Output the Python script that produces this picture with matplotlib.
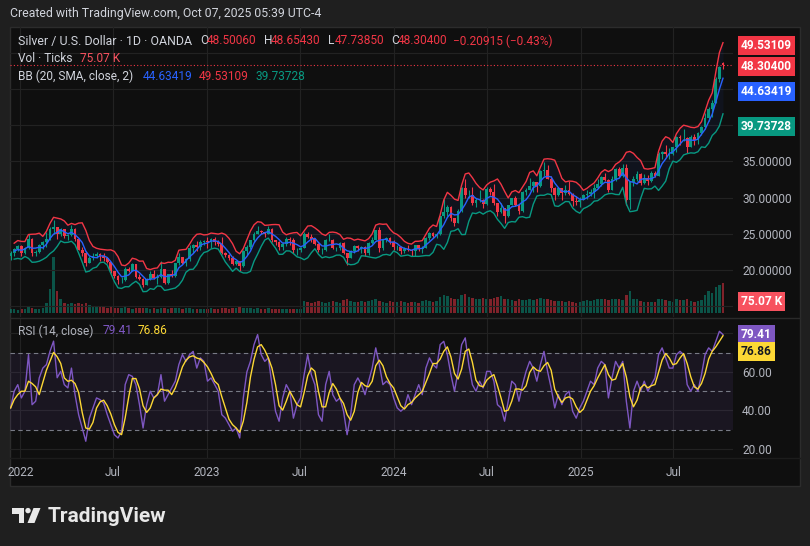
import numpy as np
import pandas as pd
import matplotlib
matplotlib.use('Agg')
import matplotlib.pyplot as plt
from matplotlib.patches import Rectangle, Polygon, Circle

W, H = 810, 546
FONT = 'Roboto'
plt.rcParams['font.family'] = [FONT, 'DejaVu Sans']

# weekly bars (week starting Monday)
start_week = '2021-12-13'
closes = [22.3, 22.9, 23.3, 22.4, 23.0, 24.3, 22.3, 22.5, 23.5, 23.9,
          24.3, 25.7, 25.9, 24.9, 25.6, 24.7, 24.8, 25.7, 24.3, 22.8,
          22.4, 20.9, 21.7, 22.0, 22.2, 21.9, 21.7, 21.1, 19.9, 19.2,
          18.6, 18.6, 20.2, 19.9, 20.8, 19.0, 18.8, 17.9, 18.8, 19.5,
          18.9, 19.0, 20.1, 18.2, 19.4, 19.2, 20.9, 21.8, 20.9, 21.5,
          23.1, 23.5, 23.2, 23.8, 24.0, 23.9, 24.3, 23.9, 23.6, 22.4,
          22.1, 21.6, 20.8, 21.2, 20.5, 22.6, 23.2, 24.1, 25.0, 25.4,
          25.2, 25.0, 25.6, 24.1, 23.9, 23.2, 23.6, 24.3, 24.2, 22.7,
          22.8, 23.1, 25.0, 24.6, 24.3, 23.6, 22.7, 22.7, 24.2, 24.2,
          23.0, 23.0, 23.7, 22.3, 21.6, 22.6, 23.3, 23.1, 23.2, 22.3,
          23.7, 24.2, 25.5, 23.0, 24.1, 24.4, 23.8, 23.2, 23.2, 22.6,
          22.9, 22.8, 22.6, 23.4, 22.9, 23.1, 24.4, 25.1, 24.7, 24.9,
          27.4, 28.0, 28.7, 27.2, 26.5, 28.2, 31.3, 30.3, 30.4, 29.2,
          29.6, 29.6, 29.1, 31.2, 30.7, 29.2, 28.0, 28.6, 27.4, 29.0,
          29.9, 28.9, 28.1, 30.7, 31.1, 31.6, 32.1, 31.6, 33.7, 33.8,
          32.6, 31.3, 30.3, 31.3, 30.6, 31.0, 30.5, 29.5, 29.4, 29.6,
          30.4, 30.5, 30.8, 31.3, 31.9, 32.8, 32.4, 31.1, 32.5, 34.0,
          33.0, 34.1, 29.6, 32.1, 32.6, 33.2, 32.0, 32.7, 32.3, 33.4,
          33.0, 36.0, 36.3, 36.0, 36.0, 36.9, 38.4, 38.2, 38.2, 37.0,
          38.3, 38.0, 38.9, 39.7, 41.0, 42.2, 43.1, 46.4, 48.0, 48.304]
highs = [22.6, 23.0, 23.5, 23.4, 23.2, 25.0, 24.4, 22.7, 23.6, 24.0,
         25.3, 25.9, 26.9, 26.0, 25.8, 25.7, 25.0, 26.2, 25.8, 24.4,
         23.2, 22.6, 22.0, 22.3, 22.5, 22.4, 22.3, 21.7, 21.1, 19.9,
         19.3, 19.1, 20.4, 20.4, 20.9, 20.8, 19.4, 18.9, 18.9, 19.9,
         20.0, 19.5, 21.2, 20.2, 19.5, 20.0, 21.0, 22.3, 21.8, 21.6,
         23.4, 23.6, 24.0, 24.2, 24.2, 24.5, 24.4, 24.6, 24.1, 24.6,
         22.5, 22.2, 21.9, 21.3, 21.2, 22.8, 23.5, 24.1, 25.2, 26.1,
         25.5, 25.3, 26.1, 25.8, 24.2, 24.0, 23.9, 24.5, 24.5, 24.4,
         23.1, 23.2, 25.3, 25.3, 25.0, 24.4, 23.7, 23.0, 24.3, 25.0,
         24.3, 23.2, 23.8, 23.8, 22.4, 22.7, 23.5, 23.4, 23.3, 23.3,
         23.9, 24.5, 25.5, 25.9, 24.3, 24.6, 24.6, 24.1, 23.4, 23.3,
         23.2, 23.5, 22.9, 23.5, 23.4, 23.3, 24.5, 25.3, 25.3, 25.1,
         27.5, 29.8, 29.0, 28.8, 27.2, 28.4, 31.5, 32.5, 31.1, 31.5,
         30.0, 31.0, 29.8, 31.5, 31.5, 31.8, 29.2, 29.2, 28.6, 29.0,
         30.0, 30.2, 29.0, 30.9, 31.3, 32.7, 32.3, 32.2, 33.8, 34.9,
         34.5, 33.0, 31.4, 31.5, 31.3, 31.7, 32.3, 30.6, 30.2, 30.1,
         30.5, 31.0, 31.2, 31.8, 32.5, 32.9, 33.4, 32.6, 32.9, 34.1,
         34.2, 34.6, 34.6, 32.2, 32.9, 33.7, 33.4, 33.2, 33.1, 33.6,
         33.6, 36.3, 36.4, 37.3, 36.8, 37.0, 38.5, 38.6, 39.5, 38.4,
         38.6, 38.7, 39.0, 39.8, 41.6, 42.5, 43.5, 46.6, 48.2, 48.6543]
lows = [21.4, 22.0, 22.6, 22.0, 22.2, 22.9, 22.0, 22.0, 22.4, 22.9,
        23.2, 24.2, 25.0, 24.3, 24.7, 24.4, 24.2, 24.7, 24.0, 22.7,
        22.0, 20.5, 20.9, 21.4, 21.6, 21.3, 21.2, 20.9, 19.6, 18.9,
        18.1, 18.2, 18.5, 19.7, 19.9, 18.9, 18.6, 17.6, 17.9, 18.6,
        18.7, 18.1, 18.9, 18.1, 18.1, 19.0, 19.1, 20.7, 20.8, 20.6,
        21.2, 22.3, 22.6, 22.8, 23.4, 23.1, 23.1, 23.5, 23.3, 22.2,
        21.8, 21.4, 20.7, 20.7, 19.9, 20.4, 22.1, 22.9, 23.9, 25.0,
        24.9, 24.6, 24.9, 23.8, 23.5, 22.7, 22.8, 23.3, 23.4, 22.4,
        22.1, 22.5, 23.0, 24.4, 23.9, 23.4, 22.5, 22.2, 22.6, 24.0,
        22.9, 22.6, 22.8, 22.2, 20.7, 21.6, 22.3, 22.6, 22.4, 21.9,
        22.1, 23.6, 24.1, 22.5, 22.7, 23.9, 23.6, 22.8, 22.7, 22.2,
        22.4, 22.6, 22.0, 21.9, 22.6, 22.3, 23.0, 24.1, 24.4, 24.4,
        24.8, 27.2, 27.5, 26.7, 26.1, 26.5, 28.0, 29.9, 29.9, 29.0,
        28.7, 29.4, 28.6, 29.0, 30.4, 29.0, 27.5, 27.8, 26.5, 27.3,
        28.9, 28.8, 27.7, 28.0, 30.3, 31.0, 30.8, 30.8, 31.5, 33.0,
        32.5, 30.8, 29.7, 30.2, 29.7, 30.3, 30.4, 28.8, 29.0, 28.7,
        29.6, 29.8, 30.2, 30.0, 31.3, 31.6, 32.3, 30.8, 31.0, 32.3,
        32.8, 32.8, 29.0, 28.4, 31.6, 32.3, 31.7, 31.8, 31.7, 32.1,
        32.8, 32.9, 35.3, 35.6, 35.3, 35.8, 36.3, 37.2, 37.8, 36.2,
        36.9, 37.3, 37.4, 38.6, 39.5, 40.6, 41.1, 43.0, 46.0, 47.7385]
first_open = 22.0
last_open = 48.5006

# volume in thousands of ticks (typical daily level per week)
volumes_k = [10, 9, 7, 10, 11, 14, 13, 10, 11, 12,
             25, 60, 140, 55, 35, 25, 22, 25, 22, 24,
             22, 25, 20, 18, 16, 15, 14, 13, 14, 12,
             13, 12, 14, 12, 11, 12, 12, 13, 12, 11,
             12, 11, 12, 13, 11, 12, 12, 13, 11, 12,
             12, 11, 10, 10, 9, 11, 12, 10, 11, 13,
             12, 11, 12, 13, 14, 13, 12, 13, 11, 12,
             11, 10, 12, 11, 10, 11, 10, 11, 10, 11,
             10, 10, 30, 28, 26, 27, 30, 28, 26, 27,
             29, 28, 26, 32, 34, 30, 28, 27, 29, 28,
             30, 32, 36, 30, 28, 26, 30, 28, 27, 30,
             28, 26, 28, 27, 26, 30, 33, 30, 28, 29,
             40, 45, 42, 38, 35, 36, 45, 48, 40, 38,
             36, 35, 38, 36, 34, 38, 40, 42, 36, 34,
             32, 30, 34, 33, 32, 35, 33, 36, 38, 35,
             34, 32, 30, 29, 30, 28, 30, 28, 26, 28,
             30, 32, 30, 33, 34, 36, 34, 32, 34, 36,
             34, 32, 45, 55, 36, 34, 30, 28, 28, 27,
             28, 35, 34, 33, 30, 28, 34, 32, 33, 36,
             30, 28, 30, 32, 45, 55, 50, 65, 70, 75.07]

rsi_vals = [41.3, 50.0, 53.4, 46.5, 50.0, 69.0, 43.0, 44.8, 56.9, 62.0,
            63.8, 70.7, 76.0, 57.0, 60.3, 53.4, 51.7, 62.0, 48.2, 37.8,
            30.9, 24.0, 36.0, 41.3, 46.5, 45.6, 43.9, 37.8, 32.6, 27.4,
            25.7, 29.2, 53.4, 58.6, 57.7, 53.4, 43.0, 30.9, 43.0, 50.0,
            46.5, 48.2, 58.6, 44.8, 48.2, 51.7, 55.2, 63.8, 69.0, 65.5,
            69.0, 70.7, 62.0, 67.3, 65.5, 55.2, 56.9, 53.4, 50.0, 37.8,
            36.0, 32.6, 29.2, 30.9, 25.7, 46.5, 60.0, 65.5, 74.2, 79.4,
            69.0, 65.5, 67.3, 53.4, 39.6, 34.4, 46.5, 53.4, 50.0, 36.0,
            43.0, 46.5, 58.6, 69.0, 58.6, 53.4, 37.8, 34.4, 53.4, 60.3,
            48.2, 44.8, 46.5, 39.6, 27.4, 37.8, 53.4, 56.9, 53.4, 48.2,
            55.2, 62.0, 72.5, 63.8, 53.4, 55.2, 53.4, 46.5, 41.3, 39.6,
            41.3, 48.2, 43.0, 48.2, 53.4, 48.2, 62.0, 67.3, 63.8, 62.0,
            74.2, 75.9, 69.0, 58.6, 50.0, 60.3, 74.2, 77.7, 63.8, 53.4,
            50.0, 55.2, 51.7, 60.3, 60.3, 55.2, 43.0, 41.3, 34.4, 44.8,
            55.2, 53.4, 44.8, 53.4, 60.3, 65.5, 62.0, 55.2, 63.8, 70.7,
            60.3, 51.7, 41.3, 48.2, 43.0, 48.2, 50.0, 39.6, 36.0, 41.3,
            44.8, 50.0, 55.2, 53.4, 62.0, 65.5, 63.8, 46.5, 56.9, 65.5,
            62.0, 65.5, 44.8, 30.9, 50.0, 55.2, 50.0, 55.2, 50.0, 53.4,
            56.9, 69.0, 72.5, 67.3, 62.0, 62.0, 69.0, 70.7, 69.0, 53.4,
            50.0, 53.4, 50.0, 58.6, 69.0, 72.5, 70.7, 75.9, 81.1, 79.41]

time_ticks = ['2022-01-01', '2022-07-01', '2023-01-01', '2023-07-01',
              '2024-01-01', '2024-07-01', '2025-01-01', '2025-07-01']
time_labels = ['2022', 'Jul', '2023', 'Jul', '2024', 'Jul', '2025', 'Jul']
price_ticks = [15, 20, 25, 30, 35, 40, 45, 50]
price_shown = [20, 25, 30, 35]   # the others sit under the value boxes
rsi_ticks = [20, 40, 60, 80]
rsi_shown = [20, 40, 60]

UP, DOWN = '#089981', '#f23645'
BLUE, PURPLE, YELLOW = '#2962ff', '#7e57c2', '#fdd835'
TXT, AXTXT, GRID = '#d1d4dc', '#b2b5be', '#222222'

weeks = pd.date_range(start_week, periods=len(closes), freq='7D')
idx = np.arange(len(closes))
c = np.array(closes)
hi = np.array(highs)
lo = np.array(lows)
o = np.r_[first_open, c[:-1]]  # weekly open = previous close
o[-1] = last_open
col = np.where(c >= o, UP, DOWN)

# bands: SMA of closes over ~20 sessions (4 weeks); spread taken over the
# weeks' closes, highs and lows so it resembles the daily deviation
basis = pd.Series(c).rolling(4, min_periods=2).mean().to_numpy()
dev = np.full(len(c), np.nan)
for i in range(1, len(c)):
    j = max(0, i - 3)
    dev[i] = np.std(np.r_[c[j:i + 1], hi[j:i + 1], lo[j:i + 1]])
upper = basis + 2 * dev
lower = basis - 2 * dev
rsi = pd.Series(rsi_vals)
rsi_ma = rsi.rolling(3, min_periods=1).mean()
tick_pos = [(pd.Timestamp(d) - weeks[0]).days / 7 for d in time_ticks]


def px_rect(x0, y0, x1, y1):
    return [x0 / W, 1 - y1 / H, (x1 - x0) / W, (y1 - y0) / H]


fig = plt.figure(figsize=(W / 100, H / 100), dpi=100, facecolor='#1f1f1f')
bg = fig.add_axes([0, 0, 1, 1], zorder=0)
bg.set_xlim(0, W)
bg.set_ylim(H, 0)
bg.axis('off')
bg.add_patch(Rectangle((10, 27), 790, 459, facecolor='#0f0f0f', edgecolor='#2c2c2c', lw=1))
bg.plot([10, 800], [318, 318], color='#2a2a2a', lw=1)
bg.plot([10, 800], [458, 458], color='#1c1c1c', lw=1)

# main price pane
ax = fig.add_axes(px_rect(10, 27, 733, 317), zorder=3)
axv = fig.add_axes(px_rect(10, 27, 733, 317), zorder=2)
for a in (ax, axv):
    a.set_facecolor('none')
    a.set_xlim(-0.17, 201.8)
    for sp in a.spines.values():
        sp.set_visible(False)
axv.set_ylim(-10, 715)
axv.set_xticks([])
axv.set_yticks([])
axv.bar(idx, volumes_k, width=0.7, color=col, alpha=0.5, lw=0)

ax.set_ylim(13.52, 53.52)
ax.set_xticks(tick_pos)
ax.tick_params(axis='x', length=0, labelbottom=False)
ax.yaxis.tick_right()
ax.set_yticks(price_ticks)
ax.set_yticklabels(['%.5f' % v if v in price_shown else '' for v in price_ticks])
ax.tick_params(axis='y', length=0, pad=6.5, labelsize=8.6, labelcolor=AXTXT)
ax.grid(True, color=GRID, lw=0.8)
ax.set_axisbelow(True)

ax.fill_between(idx, lower, upper, color=BLUE, alpha=0.06, lw=0)
ax.vlines(idx, lo, hi, colors=col, lw=0.8)
ax.bar(idx, np.abs(c - o), bottom=np.minimum(o, c), width=0.78, color=col, lw=0)
ax.plot(idx, upper, color=DOWN, lw=1.0)
ax.plot(idx, lower, color=UP, lw=1.0)
ax.plot(idx, basis, color=BLUE, lw=1.0)
ax.axhline(closes[-1], color=DOWN, lw=0.8, ls=(0, (1, 2)))


def value_box(axis, value, text, color, dy=0, tcolor='white'):
    axis.annotate(text, xy=(1, value), xycoords=('axes fraction', 'data'),
                  xytext=(5.5, dy), textcoords='offset points', ha='left', va='center',
                  fontsize=8.6, fontweight='bold', color=tcolor, annotation_clip=False,
                  bbox=dict(boxstyle='square,pad=0.25', fc=color, ec='none'))


value_box(ax, 49.53109, '49.53109', DOWN, dy=7.2)
value_box(ax, closes[-1], '48.30400', DOWN, dy=-1.0)
value_box(ax, 44.63419, '44.63419', BLUE)
value_box(ax, 39.73728, '39.73728', UP)
value_box(axv, volumes_k[-1], '75.07 K', '#f7525f', dy=-13)

# RSI pane
ar = fig.add_axes(px_rect(10, 319, 733, 458), zorder=3)
ar.set_facecolor('none')
for sp in ar.spines.values():
    sp.set_visible(False)
ar.set_xlim(-0.17, 201.8)
ar.set_ylim(15.3, 87.5)
ar.yaxis.tick_right()
ar.set_yticks(rsi_ticks)
ar.set_yticklabels(['%.2f' % v if v in rsi_shown else '' for v in rsi_ticks])
ar.tick_params(axis='y', length=0, pad=6.5, labelsize=8.6, labelcolor=AXTXT)
ar.set_xticks(tick_pos)
ar.set_xticklabels(time_labels)
ar.tick_params(axis='x', length=0, pad=6, labelsize=8.6, labelcolor=AXTXT)
ar.grid(True, color=GRID, lw=0.8)
ar.set_axisbelow(True)
ar.axhspan(30, 70, color=PURPLE, alpha=0.1, lw=0)
for lvl in (70, 50, 30):
    ar.axhline(lvl, color='#787b86', lw=0.8, ls=(0, (4, 3)))
ar.plot(idx, rsi, color=PURPLE, lw=1.0)
ar.plot(idx, rsi_ma, color=YELLOW, lw=1.0)
value_box(ar, rsi_vals[-1], '79.41', PURPLE)
value_box(ar, 76.86, '76.86', YELLOW, dy=-9.0, tcolor='#131722')

# texts over everything
fg = fig.add_axes([0, 0, 1, 1], zorder=6)
fg.set_facecolor('none')
fg.set_xlim(0, W)
fg.set_ylim(H, 0)
fg.axis('off')


def t(x, y, text, color=TXT, size=8.6, **kw):
    fg.text(x, y, text, color=color, fontsize=size, ha='left', va='center', **kw)


t(10, 14, 'Created with TradingView.com, Oct 07, 2025 05:39 UTC-4', size=8.8)
t(18, 41, 'Silver / U.S. Dollar · 1D · OANDA', size=8.9)
for x, lab, val in [(200, 'O', '48.50060'), (264, 'H', '48.65430'),
                    (328, 'L', '47.73850'), (391, 'C', '48.30400')]:
    t(x, 41, lab)
    t(x + 7, 41, val, color=DOWN)
t(453, 41, '−0.20915 (−0.43%)', color=DOWN)
t(18, 58, 'Vol · Ticks')
t(80, 58, '75.07 K', color='#f7525f')
t(18, 76, 'BB (20, SMA, close, 2)')
t(143, 76, '44.63419', color=BLUE)
t(199, 76, '49.53109', color=DOWN)
t(255, 76, '39.73728', color=UP)
t(18, 331, 'RSI (14, close)', color=AXTXT)
t(103, 331, '79.41', color=PURPLE)
t(138, 331, '76.86', color=YELLOW)

# TradingView logo
logo = '#e8e8e8'
fg.add_patch(Polygon([(11.5, 508), (24, 508), (24, 523), (18.5, 523), (18.5, 513.5), (11.5, 513.5)],
                     closed=True, fc=logo, ec='none'))
fg.add_patch(Circle((28, 510.6), 2.7, fc=logo, ec='none'))
fg.add_patch(Polygon([(33.5, 508), (40.5, 508), (34.5, 523), (27.5, 523)], closed=True, fc=logo, ec='none'))
t(48, 516, 'TradingView', color=logo, size=15, fontweight='bold')

fig.savefig('out.png', dpi=100, facecolor=fig.get_facecolor())
